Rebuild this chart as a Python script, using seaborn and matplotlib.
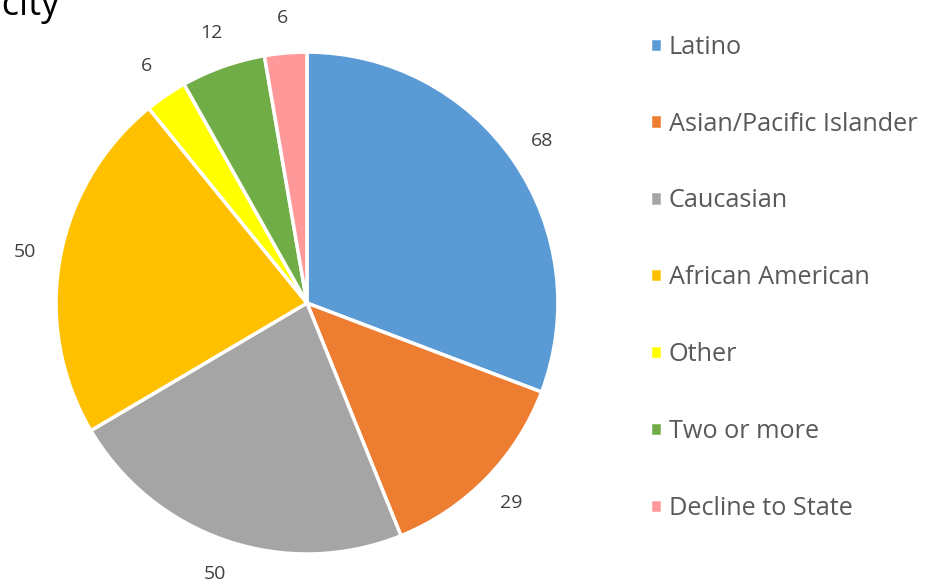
"""Ethnicity pie chart."""

import matplotlib

matplotlib.use("Agg")
import matplotlib.pyplot as plt
import seaborn as sns

categories = [
    "Latino",
    "Asian/Pacific Islander",
    "Caucasian",
    "African American",
    "Other",
    "Two or more",
    "Decline to State",
]
counts = [68, 29, 50, 50, 6, 12, 6]
colors = ["#5B9BD5", "#ED7D31", "#A5A5A5", "#FFC000", "#FFFF00", "#70AD47", "#FF9999"]

sns.set_theme(style="white")
plt.rcParams["font.family"] = ["Open Sans", "DejaVu Sans"]

fig = plt.figure(figsize=(9.26, 5.83), dpi=100)
ax = fig.add_axes([0.0605, 0.0497, 0.542, 0.861])

wedges, texts = ax.pie(
    counts,
    labels=[str(c) for c in counts],
    colors=sns.color_palette(colors),
    startangle=90,
    counterclock=False,
    labeldistance=1.14,
    wedgeprops={"edgecolor": "white", "linewidth": 2.5},
    textprops={"fontsize": 14, "color": "#404040"},
)
for t in texts:
    t.set_ha("center")
    t.set_va("center")
ax.set_xlim(-1, 1)
ax.set_ylim(-1, 1)
ax.set_aspect("equal")

fig.legend(
    wedges,
    categories,
    loc="upper left",
    bbox_to_anchor=(0.688, 0.962),
    frameon=False,
    fontsize=18.2,
    labelcolor="#595959",
    handlelength=0.5,
    handleheight=0.5,
    handletextpad=0.25,
    labelspacing=2.05,
    borderpad=0,
)

# title is cut off at the left edge in the original
fig.text(0.064, 0.975, "Ethnicity", ha="right", va="baseline", fontsize=26, color="black")

fig.savefig("out.png", dpi=100)
